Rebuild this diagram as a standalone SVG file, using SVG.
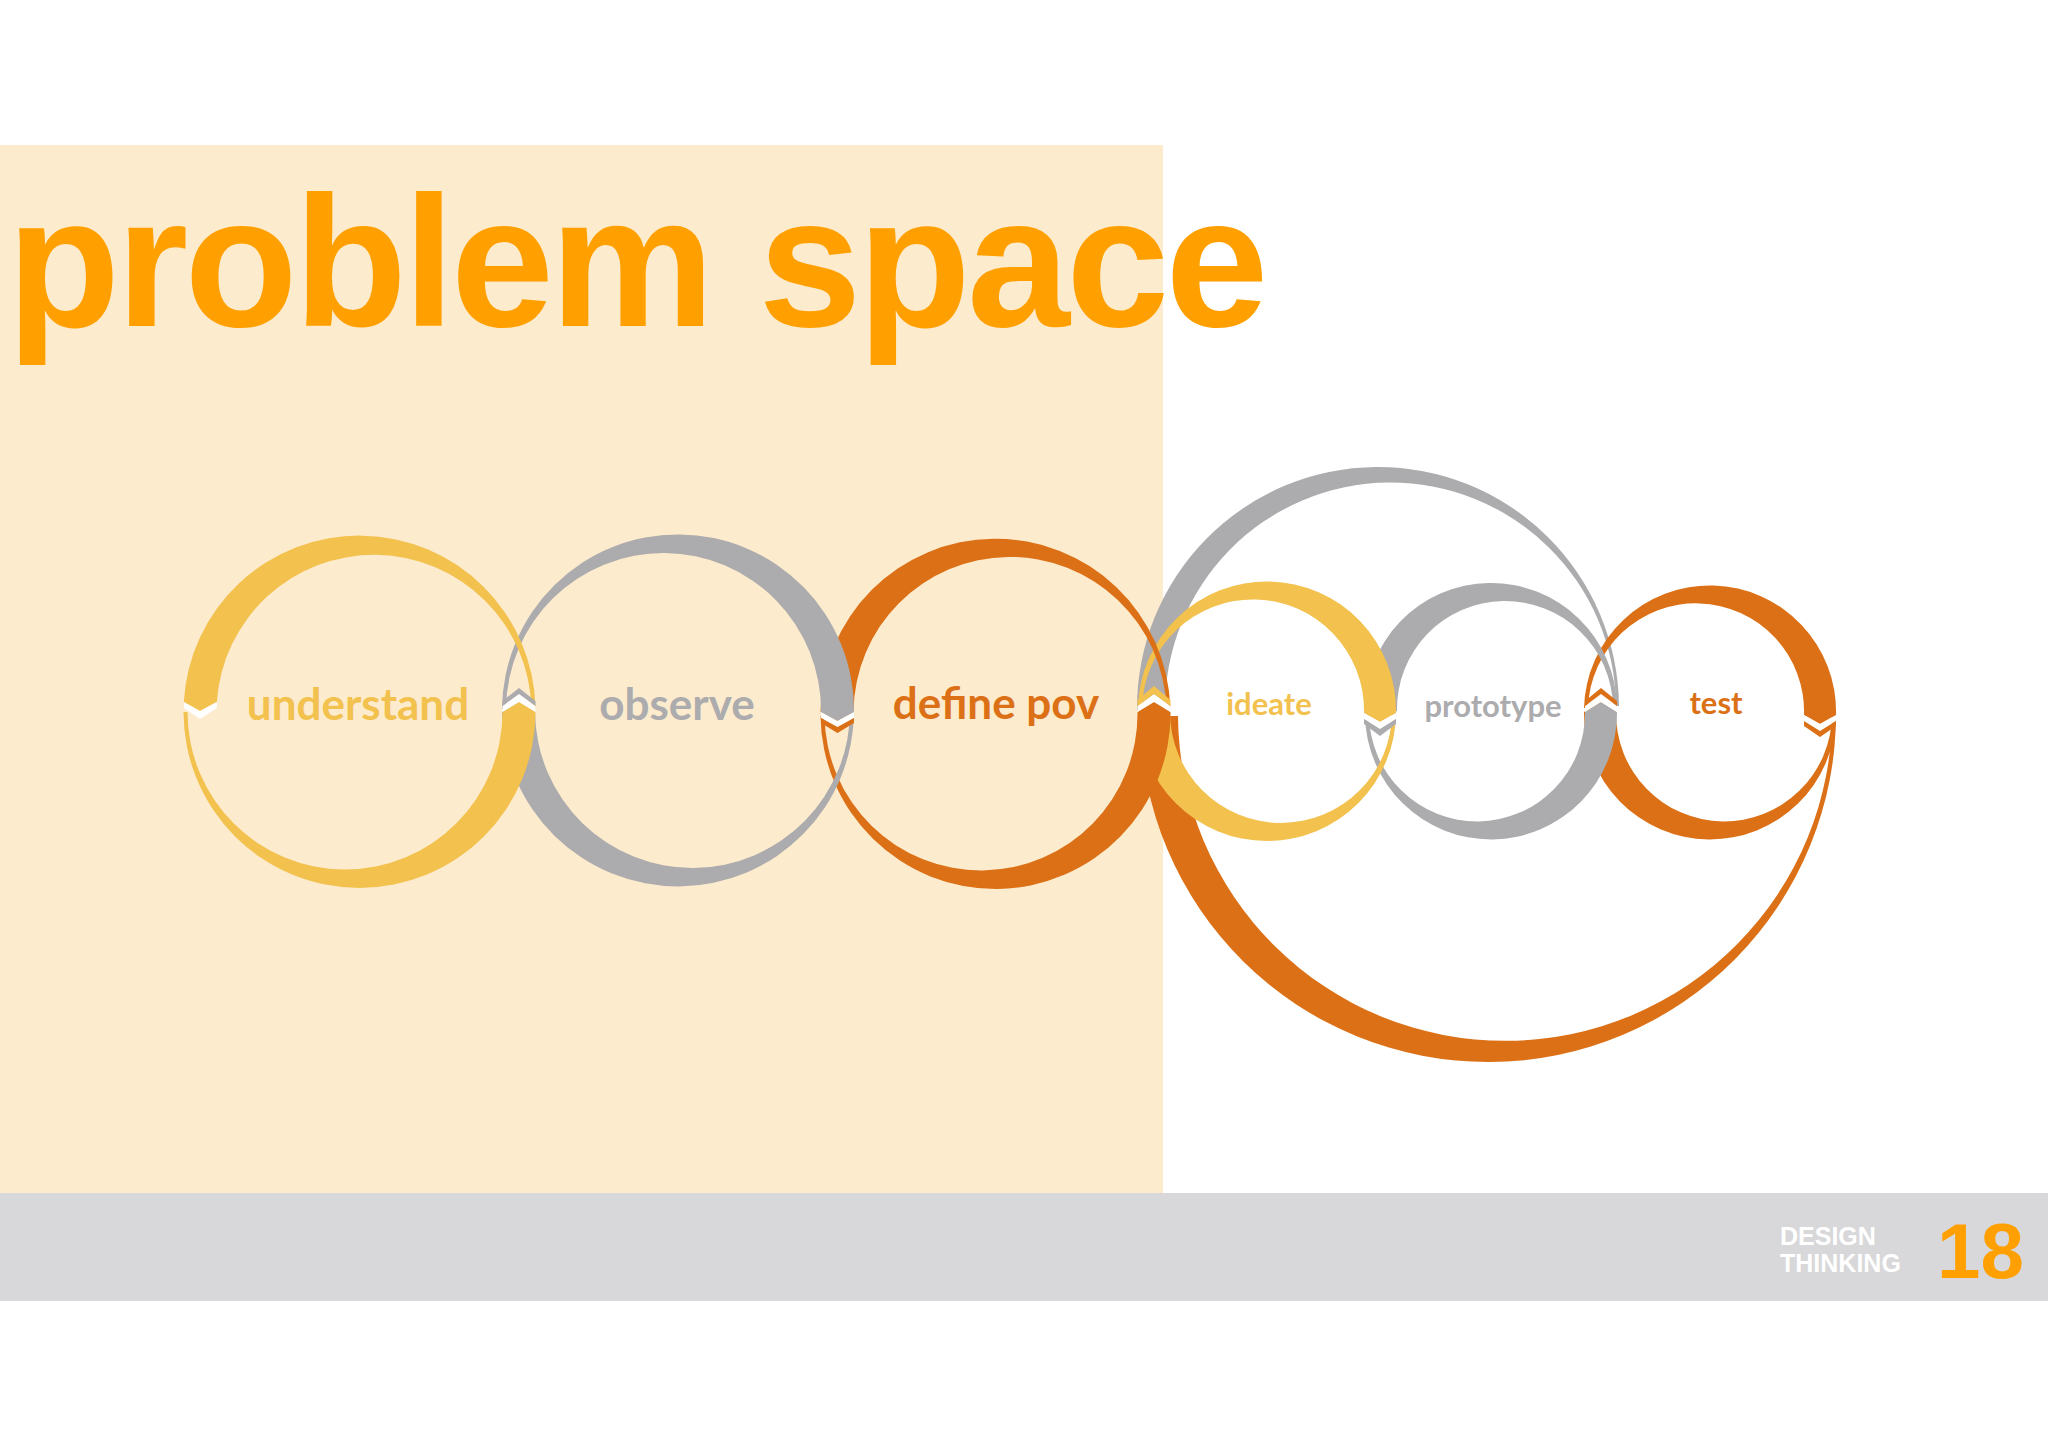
<svg xmlns="http://www.w3.org/2000/svg" width="2048" height="1447" viewBox="0 0 2048 1447">
<style>
.y{fill:#f2c14e}
.g{fill:#acabad}
.o{fill:#dc7016}
.w{fill:#ffffff}
.lbl{font-family:Lato,"Open Sans","Liberation Sans",sans-serif;font-weight:700;text-anchor:middle}
.big{font-size:44px}
.sm{font-size:31px}
.ty{fill:#f2c14e}
.tg{fill:#acabad}
.to{fill:#dc7016}
</style>
<rect x="0" y="0" width="2048" height="1447" fill="#ffffff"/>
<rect x="0" y="145" width="1163" height="1048" fill="#fdebcd"/>
<rect x="0" y="1193" width="2048" height="108" fill="#d8d7d9"/>
<text x="7" y="326" font-family="'Liberation Sans',Arial,sans-serif" font-weight="700" font-size="185" letter-spacing="-3.7" fill="#ffa000">problem space</text>
<g id="footer">
<text x="1780" y="1245" font-family="'Liberation Sans',Arial,sans-serif" font-weight="700" font-size="25" fill="#ffffff">DESIGN</text>
<text x="1780" y="1272" font-family="'Liberation Sans',Arial,sans-serif" font-weight="700" font-size="25" fill="#ffffff">THINKING</text>
<text x="1937" y="1278" font-family="'Liberation Sans',Arial,sans-serif" font-weight="700" font-size="78" fill="#ffa000">18</text>
</g>
<g id="connectors">
<path id="loop-prototype-ideate" class="g" d="M1619,706 A241,241 0 0 0 1137,710 L1151,719 L1165,710 A225.5,225.5 0 0 1 1616,706 Z"/>
<path id="loop-test-ideate" class="o" d="M1836,712 A348,348 0 0 1 1140,716 L1178,716 A327,327 0 0 0 1832,712 Z"/>
</g>
<g id="node-test">
<path class="o" d="M1836,715 A126,126 0 0 1 1584,712 L1600,702 L1616,712 A108,108 0 0 0 1832,715 Z"/>
<path class="o" d="M1584,708 A126,126 0 1 1 1836,715 L1820,724 L1804,715 A108,108 0 1 0 1588,708 Z"/>
<polygon class="w" points="1836,715 1820,724 1804,715 1804,721 1820,731 1836,721"/>
<polygon class="o" points="1836,721 1820,731 1804,721 1804,726 1820,737 1836,726"/>
<text class="lbl sm to" x="1716" y="714">test</text>
</g>
<g id="node-prototype">
<path class="g" d="M1617,707 A126,126 0 0 0 1365,711 L1381,720 L1397,711 A108,108 0 0 1 1613,707 Z"/>
<path class="g" d="M1365,715 A126,126 0 0 0 1617,712 L1601,702 L1585,712 A108,108 0 0 1 1369,715 Z"/>
<polygon class="w" points="1617,712 1601,702 1585,712 1585,706 1601,694 1617,706"/>
<polygon class="o" points="1617,706 1601,694 1585,706 1585,701 1601,688 1617,701"/>
<text class="lbl sm tg" x="1493" y="717">prototype</text>
</g>
<g id="node-ideate">
<path class="y" d="M1396,712 A129,129 0 0 1 1138,712 L1154,702 L1170,712 A111,111 0 0 0 1392,712 Z"/>
<path class="y" d="M1138,708 A129,129 0 1 1 1396,713 L1380,722 L1364,713 A111,111 0 1 0 1142,708 Z"/>
<polygon class="w" points="1396,713 1380,722 1364,713 1364,719 1380,729 1396,719"/>
<polygon class="g" points="1396,719 1380,729 1364,719 1364,724 1380,736 1396,724"/>
<text class="lbl sm ty" x="1269" y="715">ideate</text>
</g>
<g id="node-define-pov">
<path class="o" d="M1170.4,708 A175,175 0 0 0 820.5,712 L837,721 L853.5,712 A156.5,156.5 0 0 1 1166.4,708 Z"/>
<path class="o" d="M820.5,716 A175,175 0 0 0 1170.5,712 L1154,702 L1137.5,712 A156.5,156.5 0 0 1 824.5,716 Z"/>
<polygon class="w" points="1170.5,712 1154,702 1137.5,712 1137.5,706 1154,694 1170.5,706"/>
<polygon class="y" points="1170.5,706 1154,694 1137.5,706 1137.5,700 1154,686 1170.5,700"/>
<text class="lbl big to" x="996" y="719">define pov</text>
</g>
<g id="node-observe">
<path class="g" d="M854,709 A176,176 0 0 1 502,712 L518.5,702 L535,712 A157.5,157.5 0 0 0 850,709 Z"/>
<path class="g" d="M502,709 A176,176 0 1 1 854,712 L837.5,721 L821,712 A157.5,157.5 0 1 0 506,709 Z"/>
<polygon class="w" points="854,712 837.5,721 821,712 821,718 837.5,727 854,718"/>
<polygon class="o" points="854,718 837.5,727 821,718 821,723 837.5,733 854,723"/>
<text class="lbl big tg" x="677" y="720">observe</text>
</g>
<g id="node-understand">
<path class="y" d="M535.5,708 A176,176 0 0 0 183.8,702 L200,711 L216.8,702 A157.5,157.5 0 0 1 531.4,708 Z"/>
<path class="y" d="M183.5,712 A176,176 0 0 0 535.5,712 L519,702 L502.5,712 A157.5,157.5 0 0 1 187.5,712 Z"/>
<polygon class="w" points="183.8,702 200,711 216.8,702 216.8,708 200,719 183.8,708"/>
<polygon class="w" points="535.5,712 519,702 502.5,712 502.5,706 519,694 535.5,706"/>
<polygon class="g" points="535.5,706 519,694 502.5,706 502.5,701 519,688 535.5,701"/>
<text class="lbl big ty" x="358" y="720">understand</text>
</g>
</svg>
